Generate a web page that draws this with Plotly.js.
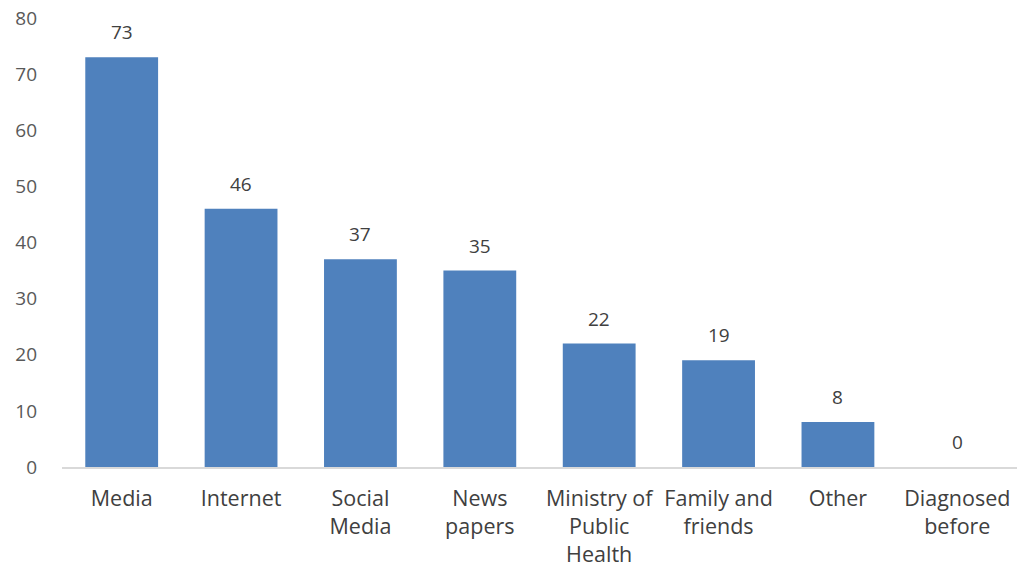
<!DOCTYPE html>
<html>
<head>
<meta charset="utf-8">
<script src="https://cdn.plot.ly/plotly-3.0.1.min.js"></script>
<style>html,body{margin:0;padding:0;background:#fff;}#chart{width:1027px;height:576px;}</style>
</head>
<body>
<div id="chart"></div>
<script>
const categories = ["Media", "Internet", "Social<br>Media", "News<br>papers", "Ministry of<br>Public<br>Health", "Family and<br>friends", "Other", "Diagnosed<br>before"];
const values = [73, 46, 37, 35, 22, 19, 8, 0];
const yTicks = [0, 10, 20, 30, 40, 50, 60, 70, 80];

const trace = {
  type: "bar",
  x: categories,
  y: values,
  marker: {color: "#4F81BD"},
  hoverinfo: "none"
};

const labels = categories.map((c, i) => ({
  x: c, y: values[i], xref: "x", yref: "y",
  text: String(values[i]), showarrow: false,
  yanchor: "middle", yshift: 25,
  font: {family: "Open Sans, sans-serif", size: 19, color: "#404040"}
}));

const layout = {
  width: 1027, height: 576,
  margin: {l: 62, r: 10, t: 18, b: 109},
  paper_bgcolor: "#fff", plot_bgcolor: "#fff",
  showlegend: false,
  bargap: 0.39,
  font: {family: "Open Sans, sans-serif", color: "#404040"},
  annotations: labels,
  xaxis: {
    type: "category",
    showline: true, linecolor: "#d9d9d9", linewidth: 2,
    ticks: "", showgrid: false, zeroline: false,
    tickfont: {size: 21.5, color: "#404040"},
    ticklabelstandoff: 11,
    tickangle: 0
  },
  yaxis: {
    range: [0, 80],
    tickvals: yTicks,
    ticktext: yTicks.map(String),
    showgrid: false, zeroline: false, showline: false,
    ticks: "",
    tickfont: {size: 19, color: "#595959"},
    ticklabelstandoff: 24
  }
};

Plotly.newPlot("chart", [trace], layout, {displayModeBar: false, staticPlot: true});
</script>
</body>
</html>
